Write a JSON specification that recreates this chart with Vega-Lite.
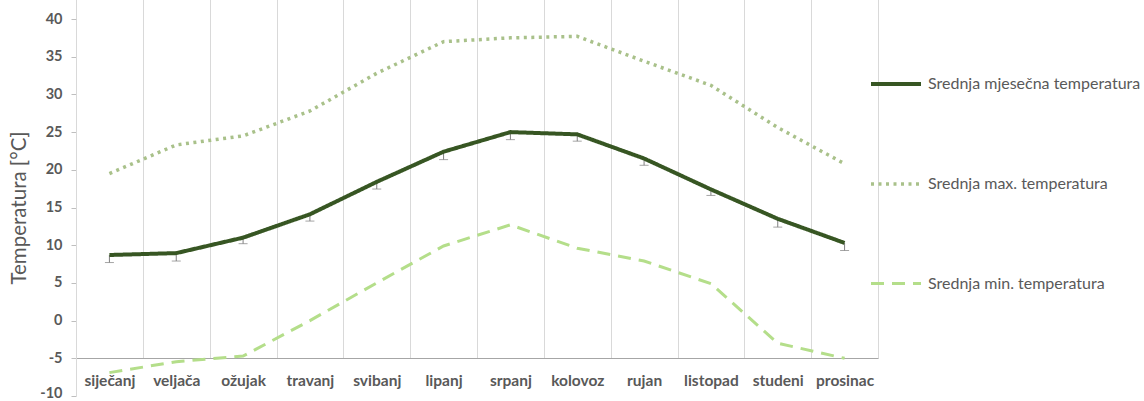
{
  "$schema": "https://vega.github.io/schema/vega-lite/v6.json",
  "width": 802,
  "height": 377,
  "autosize": "none",
  "padding": {"left": 76, "top": 19, "right": 266, "bottom": 5},
  "background": "white",
  "config": {
    "view": {"stroke": null},
    "font": "Lato",
    "axisX": {
      "labelFontWeight": "bold",
      "labelFontSize": 15.5,
      "labelColor": "#595959",
      "domainColor": "#a6a6a6",
      "domainWidth": 1,
      "ticks": false,
      "grid": true,
      "gridColor": "#d9d9d9",
      "tickBand": "extent",
      "offset": -38,
      "labelPadding": 15,
      "labelAngle": 0
    },
    "axisY": {
      "labelFontWeight": "bold",
      "labelFontSize": 14.5,
      "labelColor": "#595959",
      "domainColor": "#d9d9d9",
      "tickColor": "#bfbfbf",
      "tickSize": 5,
      "grid": false,
      "labelPadding": 9,
      "titleFontSize": 20.5,
      "titleFontWeight": "normal",
      "titleColor": "#595959",
      "titlePadding": 10
    }
  },
  "datasets": {
    "lines": [
      {"month": "siječanj", "series": "Srednja mjesečna temperatura", "temp": 8.7},
      {"month": "veljača", "series": "Srednja mjesečna temperatura", "temp": 8.95},
      {"month": "ožujak", "series": "Srednja mjesečna temperatura", "temp": 11.0},
      {"month": "travanj", "series": "Srednja mjesečna temperatura", "temp": 14.1},
      {"month": "svibanj", "series": "Srednja mjesečna temperatura", "temp": 18.4},
      {"month": "lipanj", "series": "Srednja mjesečna temperatura", "temp": 22.4},
      {"month": "srpanj", "series": "Srednja mjesečna temperatura", "temp": 25.0},
      {"month": "kolovoz", "series": "Srednja mjesečna temperatura", "temp": 24.7},
      {"month": "rujan", "series": "Srednja mjesečna temperatura", "temp": 21.5},
      {"month": "listopad", "series": "Srednja mjesečna temperatura", "temp": 17.4},
      {"month": "studeni", "series": "Srednja mjesečna temperatura", "temp": 13.5},
      {"month": "prosinac", "series": "Srednja mjesečna temperatura", "temp": 10.3},
      {"month": "siječanj", "series": "Srednja max. temperatura", "temp": 19.5},
      {"month": "veljača", "series": "Srednja max. temperatura", "temp": 23.3},
      {"month": "ožujak", "series": "Srednja max. temperatura", "temp": 24.5},
      {"month": "travanj", "series": "Srednja max. temperatura", "temp": 27.8},
      {"month": "svibanj", "series": "Srednja max. temperatura", "temp": 32.8},
      {"month": "lipanj", "series": "Srednja max. temperatura", "temp": 37.0},
      {"month": "srpanj", "series": "Srednja max. temperatura", "temp": 37.5},
      {"month": "kolovoz", "series": "Srednja max. temperatura", "temp": 37.7},
      {"month": "rujan", "series": "Srednja max. temperatura", "temp": 34.4},
      {"month": "listopad", "series": "Srednja max. temperatura", "temp": 31.2},
      {"month": "studeni", "series": "Srednja max. temperatura", "temp": 25.6},
      {"month": "prosinac", "series": "Srednja max. temperatura", "temp": 20.8},
      {"month": "siječanj", "series": "Srednja min. temperatura", "temp": -6.9},
      {"month": "veljača", "series": "Srednja min. temperatura", "temp": -5.45},
      {"month": "ožujak", "series": "Srednja min. temperatura", "temp": -4.7},
      {"month": "travanj", "series": "Srednja min. temperatura", "temp": 0.0},
      {"month": "svibanj", "series": "Srednja min. temperatura", "temp": 5.0},
      {"month": "lipanj", "series": "Srednja min. temperatura", "temp": 9.9},
      {"month": "srpanj", "series": "Srednja min. temperatura", "temp": 12.7},
      {"month": "kolovoz", "series": "Srednja min. temperatura", "temp": 9.6},
      {"month": "rujan", "series": "Srednja min. temperatura", "temp": 7.9},
      {"month": "listopad", "series": "Srednja min. temperatura", "temp": 4.9},
      {"month": "studeni", "series": "Srednja min. temperatura", "temp": -3.0},
      {"month": "prosinac", "series": "Srednja min. temperatura", "temp": -5.0}
    ],
    "err": [
      {"month": "siječanj", "mean": 8.7, "low": 7.7},
      {"month": "veljača", "mean": 8.95, "low": 7.9},
      {"month": "ožujak", "mean": 11.0, "low": 10.2},
      {"month": "travanj", "mean": 14.1, "low": 13.2},
      {"month": "svibanj", "mean": 18.4, "low": 17.45},
      {"month": "lipanj", "mean": 22.4, "low": 21.35},
      {"month": "srpanj", "mean": 25.0, "low": 24.0},
      {"month": "kolovoz", "mean": 24.7, "low": 23.8},
      {"month": "rujan", "mean": 21.5, "low": 20.6},
      {"month": "listopad", "mean": 17.4, "low": 16.6},
      {"month": "studeni", "mean": 13.5, "low": 12.4},
      {"month": "prosinac", "mean": 10.3, "low": 9.3}
    ]
  },
  "encoding": {
    "x": {
      "field": "month",
      "type": "nominal",
      "sort": ["siječanj", "veljača", "ožujak", "travanj", "svibanj", "lipanj", "srpanj", "kolovoz", "rujan", "listopad", "studeni", "prosinac"],
      "scale": {"paddingInner": 0, "paddingOuter": 0},
      "title": null
    }
  },
  "layer": [
    {
      "data": {"name": "err"},
      "mark": {"type": "rule", "color": "#7f7f7f", "strokeWidth": 1},
      "encoding": {
        "y": {"field": "mean", "type": "quantitative", "scale": {"domain": [-10, 40]}, "title": "Temperatura [°C]", "axis": {"values": [-10, -5, 0, 5, 10, 15, 20, 25, 30, 35, 40], "labelExpr": "'' + datum.value", "labelOffset": {"condition": {"test": "datum.value == -10", "value": -3}, "value": 0}}},
        "y2": {"field": "low"}
      }
    },
    {
      "data": {"name": "err"},
      "mark": {"type": "tick", "color": "#7f7f7f", "thickness": 1, "size": 9},
      "encoding": {
        "y": {"field": "low", "type": "quantitative", "scale": {"domain": [-10, 40]}, "title": "Temperatura [°C]", "axis": {"values": [-10, -5, 0, 5, 10, 15, 20, 25, 30, 35, 40], "labelExpr": "'' + datum.value", "labelOffset": {"condition": {"test": "datum.value == -10", "value": -3}, "value": 0}}}
      }
    },
    {
      "data": {"name": "lines"},
      "mark": {"type": "line"},
      "encoding": {
        "y": {"field": "temp", "type": "quantitative", "scale": {"domain": [-10, 40]}, "title": "Temperatura [°C]", "axis": {"values": [-10, -5, 0, 5, 10, 15, 20, 25, 30, 35, 40], "labelExpr": "'' + datum.value", "labelOffset": {"condition": {"test": "datum.value == -10", "value": -3}, "value": 0}}},
        "color": {
          "field": "series", "type": "nominal",
          "scale": {"domain": ["Srednja mjesečna temperatura", "Srednja max. temperatura", "Srednja min. temperatura"], "range": ["#375623", "#a9c18a", "#b4de8a"]},
          "legend": {"orient": "none", "legendX": 793, "legendY": 38, "title": null, "symbolType": "stroke", "symbolSize": 2500, "rowPadding": 65, "labelFontSize": 16, "labelColor": "#595959", "labelOffset": 5, "labelLimit": 0}
        },
        "strokeDash": {
          "field": "series", "type": "nominal",
          "scale": {"domain": ["Srednja mjesečna temperatura", "Srednja max. temperatura", "Srednja min. temperatura"], "range": [[1, 0], [3, 4.5], [13, 8]]},
          "legend": {"orient": "none", "legendX": 793, "legendY": 38, "title": null, "symbolType": "stroke", "symbolSize": 2500, "rowPadding": 65, "labelFontSize": 16, "labelColor": "#595959", "labelOffset": 5, "labelLimit": 0}
        },
        "strokeWidth": {
          "field": "series", "type": "nominal",
          "scale": {"domain": ["Srednja mjesečna temperatura", "Srednja max. temperatura", "Srednja min. temperatura"], "range": [4, 3, 3]},
          "legend": {"orient": "none", "legendX": 793, "legendY": 38, "title": null, "symbolType": "stroke", "symbolSize": 2500, "rowPadding": 65, "labelFontSize": 16, "labelColor": "#595959", "labelOffset": 5, "labelLimit": 0}
        }
      }
    }
  ]
}
